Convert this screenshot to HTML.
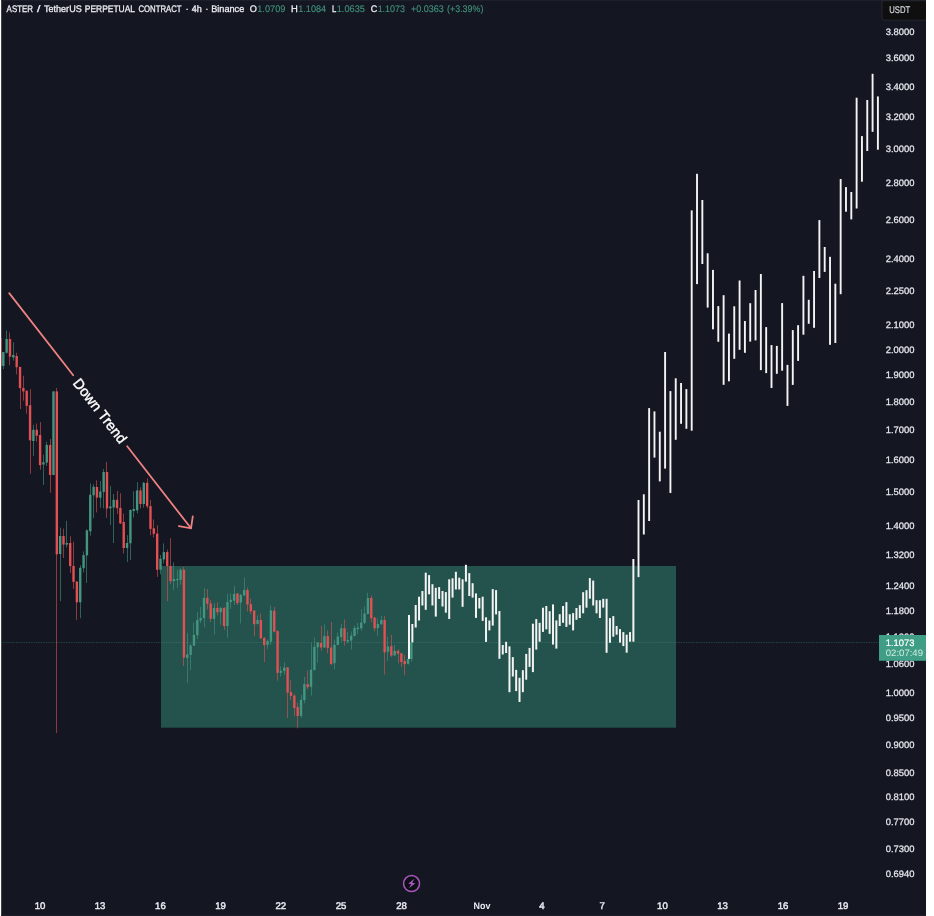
<!DOCTYPE html>
<html lang="en">
<head>
<meta charset="utf-8">
<title>ASTER / TetherUS PERPETUAL CONTRACT</title>
<style>
html,body{margin:0;padding:0;background:#ffffff;}
body{width:934px;height:916px;overflow:hidden;position:relative;font-family:"Liberation Sans",sans-serif;}
#chart{position:absolute;left:0;top:0;width:934px;height:916px;display:block;}
text{font-family:"Liberation Sans",sans-serif;text-rendering:geometricPrecision;}
</style>
</head>
<body>
<svg id="chart" width="934" height="916" viewBox="0 0 934 916">
<rect x="0" y="0" width="934" height="916" fill="#ffffff"/>
<rect x="1.2" y="0" width="924.8" height="916" fill="#141621"/>
<rect x="1.2" y="914.8" width="924.8" height="1.2" fill="#1c1f2a"/>
<rect x="1.2" y="0" width="924.8" height="0.7" fill="#22252f"/>
<!-- range box -->
<rect x="161" y="566" width="515" height="161.7" fill="#24524C"/>
<!-- price line -->
<line x1="1" y1="642.5" x2="879" y2="642.5" stroke="#449680" stroke-width="1" stroke-dasharray="1.3 1.2" opacity=".38"/>
<!-- candles -->
<g shape-rendering="auto">
<rect x="1.2" y="338" width="0.7" height="28" fill="#E15052" opacity=".85"/>
<rect x="3" y="352.1" width="1" height="16.9" fill="#449680" opacity=".6"/>
<rect x="2.1" y="352.1" width="2.4" height="13.8" fill="#449680"/>
<rect x="6" y="330.5" width="1" height="23" fill="#449680" opacity=".6"/>
<rect x="5.44" y="339" width="2.4" height="13.8" fill="#449680"/>
<rect x="9" y="332.4" width="1" height="32.8" fill="#E15052" opacity=".6"/>
<rect x="8.79" y="339" width="2.4" height="17.7" fill="#E15052"/>
<rect x="13" y="342.3" width="1" height="18.3" fill="#449680" opacity=".6"/>
<rect x="12.14" y="355" width="2.4" height="2.5" fill="#449680"/>
<rect x="16" y="352.8" width="1" height="21.6" fill="#E15052" opacity=".6"/>
<rect x="15.48" y="356" width="2.4" height="11.2" fill="#E15052"/>
<rect x="20" y="366.9" width="1" height="42.1" fill="#E15052" opacity=".6"/>
<rect x="18.83" y="366.9" width="2.4" height="21.2" fill="#E15052"/>
<rect x="23" y="375.7" width="1" height="24.9" fill="#E15052" opacity=".6"/>
<rect x="22.17" y="387.9" width="2.4" height="3.5" fill="#E15052"/>
<rect x="26" y="390.7" width="1" height="23" fill="#E15052" opacity=".6"/>
<rect x="25.52" y="390.7" width="2.4" height="15.1" fill="#E15052"/>
<rect x="30" y="389.2" width="1" height="84.5" fill="#E15052" opacity=".6"/>
<rect x="28.86" y="405.2" width="2.4" height="35.1" fill="#E15052"/>
<rect x="33" y="424.8" width="1" height="31.2" fill="#449680" opacity=".6"/>
<rect x="32.2" y="429.8" width="2.4" height="11.2" fill="#449680"/>
<rect x="36" y="423.5" width="1" height="18.1" fill="#E15052" opacity=".6"/>
<rect x="35.55" y="429.8" width="2.4" height="5.9" fill="#E15052"/>
<rect x="40" y="422" width="1" height="47.8" fill="#E15052" opacity=".6"/>
<rect x="38.89" y="435" width="2.4" height="30.2" fill="#E15052"/>
<rect x="43" y="454.7" width="1" height="30.1" fill="#449680" opacity=".6"/>
<rect x="42.24" y="462.2" width="2.4" height="2.3" fill="#449680"/>
<rect x="46" y="441.6" width="1" height="24.3" fill="#449680" opacity=".6"/>
<rect x="45.58" y="444.9" width="2.4" height="17.7" fill="#449680"/>
<rect x="50" y="439" width="1" height="53.7" fill="#E15052" opacity=".6"/>
<rect x="48.93" y="444.9" width="2.4" height="30.1" fill="#E15052"/>
<rect x="53" y="391.4" width="1" height="83.6" fill="#449680" opacity=".6"/>
<rect x="52.27" y="391.4" width="2.4" height="83.6" fill="#449680"/>
<rect x="56" y="387.9" width="1" height="345.2" fill="#E15052" opacity=".6"/>
<rect x="55.62" y="391.4" width="2.4" height="162.9" fill="#E15052"/>
<rect x="60" y="527.6" width="1" height="73.6" fill="#449680" opacity=".6"/>
<rect x="58.96" y="536" width="2.4" height="18.1" fill="#449680"/>
<rect x="63" y="528.6" width="1" height="29.4" fill="#E15052" opacity=".6"/>
<rect x="62.31" y="536" width="2.4" height="8.6" fill="#E15052"/>
<rect x="66" y="520.8" width="1" height="26.7" fill="#449680" opacity=".6"/>
<rect x="65.66" y="543" width="2.4" height="1.6" fill="#449680"/>
<rect x="70" y="536.2" width="1" height="36.8" fill="#E15052" opacity=".6"/>
<rect x="69" y="543" width="2.4" height="23.1" fill="#E15052"/>
<rect x="73" y="541.6" width="1" height="47.2" fill="#E15052" opacity=".6"/>
<rect x="72.34" y="565.9" width="2.4" height="15.9" fill="#E15052"/>
<rect x="76" y="581" width="1" height="39.2" fill="#E15052" opacity=".6"/>
<rect x="75.69" y="581.6" width="2.4" height="20.7" fill="#E15052"/>
<rect x="80" y="565.2" width="1" height="53.1" fill="#449680" opacity=".6"/>
<rect x="79.03" y="567.8" width="2.4" height="34.5" fill="#449680"/>
<rect x="83" y="551.4" width="1" height="21" fill="#449680" opacity=".6"/>
<rect x="82.38" y="555.1" width="2.4" height="13.1" fill="#449680"/>
<rect x="86" y="529.5" width="1" height="53.4" fill="#449680" opacity=".6"/>
<rect x="85.72" y="530.3" width="2.4" height="25.1" fill="#449680"/>
<rect x="90" y="483.5" width="1" height="52.2" fill="#449680" opacity=".6"/>
<rect x="89.07" y="494.7" width="2.4" height="36.6" fill="#449680"/>
<rect x="93" y="484.2" width="1" height="34.1" fill="#449680" opacity=".6"/>
<rect x="92.42" y="486.8" width="2.4" height="8.5" fill="#449680"/>
<rect x="96" y="480.3" width="1" height="32.1" fill="#E15052" opacity=".6"/>
<rect x="95.76" y="487" width="2.4" height="10.6" fill="#E15052"/>
<rect x="100" y="480.9" width="1" height="26.9" fill="#449680" opacity=".6"/>
<rect x="99.11" y="491.5" width="2.4" height="6.2" fill="#449680"/>
<rect x="103" y="469" width="1" height="39.3" fill="#449680" opacity=".6"/>
<rect x="102.45" y="472" width="2.4" height="19.9" fill="#449680"/>
<rect x="106" y="461.8" width="1" height="56" fill="#E15052" opacity=".6"/>
<rect x="105.8" y="472" width="2.4" height="36.5" fill="#E15052"/>
<rect x="110" y="486" width="1" height="39" fill="#449680" opacity=".6"/>
<rect x="109.14" y="506.5" width="2.4" height="1.8" fill="#449680"/>
<rect x="113" y="494" width="1" height="49" fill="#449680" opacity=".6"/>
<rect x="112.48" y="499.8" width="2.4" height="7.7" fill="#449680"/>
<rect x="117" y="491" width="1" height="23" fill="#E15052" opacity=".6"/>
<rect x="115.83" y="499.8" width="2.4" height="8.4" fill="#E15052"/>
<rect x="120" y="493.2" width="1" height="30.8" fill="#E15052" opacity=".6"/>
<rect x="119.17" y="507.9" width="2.4" height="15.5" fill="#E15052"/>
<rect x="123" y="513.5" width="1" height="40" fill="#E15052" opacity=".6"/>
<rect x="122.52" y="522" width="2.4" height="26" fill="#E15052"/>
<rect x="127" y="535.2" width="1" height="26.8" fill="#449680" opacity=".6"/>
<rect x="125.86" y="543" width="2.4" height="5" fill="#449680"/>
<rect x="130" y="509.5" width="1" height="50.5" fill="#449680" opacity=".6"/>
<rect x="129.21" y="510" width="2.4" height="33.3" fill="#449680"/>
<rect x="133" y="491.3" width="1" height="26.2" fill="#449680" opacity=".6"/>
<rect x="132.56" y="509" width="2.4" height="1.9" fill="#449680"/>
<rect x="137" y="482.1" width="1" height="31.4" fill="#449680" opacity=".6"/>
<rect x="135.9" y="490.4" width="2.4" height="19.9" fill="#449680"/>
<rect x="140" y="487.3" width="1" height="21" fill="#E15052" opacity=".6"/>
<rect x="139.25" y="490.4" width="2.4" height="13.6" fill="#E15052"/>
<rect x="143" y="482" width="1" height="25.6" fill="#449680" opacity=".6"/>
<rect x="142.59" y="482.8" width="2.4" height="21.2" fill="#449680"/>
<rect x="147" y="478.2" width="1" height="30.1" fill="#E15052" opacity=".6"/>
<rect x="145.94" y="482.8" width="2.4" height="23.5" fill="#E15052"/>
<rect x="150" y="499.8" width="1" height="35.4" fill="#E15052" opacity=".6"/>
<rect x="149.28" y="506.1" width="2.4" height="22.8" fill="#E15052"/>
<rect x="153" y="519.4" width="1" height="18.1" fill="#E15052" opacity=".6"/>
<rect x="152.63" y="528.3" width="2.4" height="5.5" fill="#E15052"/>
<rect x="157" y="525.3" width="1" height="51.6" fill="#E15052" opacity=".6"/>
<rect x="155.97" y="533.6" width="2.4" height="36.1" fill="#E15052"/>
<rect x="160" y="555" width="1" height="19.2" fill="#449680" opacity=".6"/>
<rect x="159.32" y="558.8" width="2.4" height="10.9" fill="#449680"/>
<rect x="163" y="543.3" width="1" height="20.2" fill="#449680" opacity=".6"/>
<rect x="162.66" y="552.1" width="2.4" height="7.3" fill="#449680"/>
<rect x="167" y="549.6" width="1" height="51.4" fill="#E15052" opacity=".6"/>
<rect x="166.01" y="552.1" width="2.4" height="13.9" fill="#E15052"/>
<rect x="170" y="538" width="1" height="46" fill="#E15052" opacity=".6"/>
<rect x="169.35" y="566" width="2.4" height="15.2" fill="#E15052"/>
<rect x="173" y="562.4" width="1" height="27.6" fill="#449680" opacity=".6"/>
<rect x="172.7" y="579" width="2.4" height="2.2" fill="#449680"/>
<rect x="177" y="569.7" width="1" height="18.3" fill="#449680" opacity=".6"/>
<rect x="176.04" y="579" width="2.4" height="1.2" fill="#449680"/>
<rect x="180" y="568.3" width="1" height="16.4" fill="#449680" opacity=".6"/>
<rect x="179.39" y="569.7" width="2.4" height="10.2" fill="#449680"/>
<rect x="183" y="567" width="1" height="99" fill="#E15052" opacity=".6"/>
<rect x="182.73" y="569.7" width="2.4" height="87.8" fill="#E15052"/>
<rect x="187" y="633.2" width="1" height="49.6" fill="#449680" opacity=".6"/>
<rect x="186.08" y="654.4" width="2.4" height="3.7" fill="#449680"/>
<rect x="190" y="644" width="1" height="26" fill="#449680" opacity=".6"/>
<rect x="189.42" y="645.4" width="2.4" height="9.5" fill="#449680"/>
<rect x="193" y="622.7" width="1" height="23.3" fill="#449680" opacity=".6"/>
<rect x="192.77" y="634.9" width="2.4" height="10.7" fill="#449680"/>
<rect x="197" y="612.2" width="1" height="26.8" fill="#449680" opacity=".6"/>
<rect x="196.11" y="620.1" width="2.4" height="15.1" fill="#449680"/>
<rect x="200" y="607" width="1" height="16" fill="#449680" opacity=".6"/>
<rect x="199.46" y="617.9" width="2.4" height="2.6" fill="#449680"/>
<rect x="204" y="588" width="1" height="39.3" fill="#449680" opacity=".6"/>
<rect x="202.8" y="597.8" width="2.4" height="20.3" fill="#449680"/>
<rect x="207" y="589" width="1" height="20.6" fill="#E15052" opacity=".6"/>
<rect x="206.15" y="597.8" width="2.4" height="5.9" fill="#E15052"/>
<rect x="210" y="599.8" width="1" height="22.2" fill="#E15052" opacity=".6"/>
<rect x="209.49" y="603.5" width="2.4" height="15.3" fill="#E15052"/>
<rect x="214" y="603" width="1" height="31.5" fill="#449680" opacity=".6"/>
<rect x="212.84" y="607.9" width="2.4" height="10.9" fill="#449680"/>
<rect x="217" y="602.4" width="1" height="13.1" fill="#E15052" opacity=".6"/>
<rect x="216.18" y="607.9" width="2.4" height="4.3" fill="#E15052"/>
<rect x="220" y="607" width="1" height="17.7" fill="#449680" opacity=".6"/>
<rect x="219.53" y="607.9" width="2.4" height="4.3" fill="#449680"/>
<rect x="224" y="607" width="1" height="22.9" fill="#E15052" opacity=".6"/>
<rect x="222.87" y="607.9" width="2.4" height="18.1" fill="#E15052"/>
<rect x="227" y="593.9" width="1" height="43.9" fill="#449680" opacity=".6"/>
<rect x="226.22" y="602.1" width="2.4" height="23.9" fill="#449680"/>
<rect x="230" y="593.2" width="1" height="15.8" fill="#449680" opacity=".6"/>
<rect x="229.56" y="599.8" width="2.4" height="2.3" fill="#449680"/>
<rect x="234" y="586" width="1" height="19" fill="#449680" opacity=".6"/>
<rect x="232.91" y="593.9" width="2.4" height="6.9" fill="#449680"/>
<rect x="237" y="593" width="1" height="12" fill="#E15052" opacity=".6"/>
<rect x="236.25" y="593.5" width="2.4" height="9.6" fill="#E15052"/>
<rect x="240" y="594" width="1" height="29.5" fill="#449680" opacity=".6"/>
<rect x="239.6" y="594.9" width="2.4" height="7.6" fill="#449680"/>
<rect x="244" y="577.5" width="1" height="18.5" fill="#449680" opacity=".6"/>
<rect x="242.94" y="589.9" width="2.4" height="5.4" fill="#449680"/>
<rect x="247" y="587.5" width="1" height="24" fill="#E15052" opacity=".6"/>
<rect x="246.29" y="589.9" width="2.4" height="14.6" fill="#E15052"/>
<rect x="250" y="598.4" width="1" height="15.8" fill="#E15052" opacity=".6"/>
<rect x="249.63" y="604.1" width="2.4" height="7.2" fill="#E15052"/>
<rect x="254" y="610" width="1" height="26" fill="#E15052" opacity=".6"/>
<rect x="252.98" y="610.6" width="2.4" height="13.6" fill="#E15052"/>
<rect x="257" y="615.4" width="1" height="9.1" fill="#449680" opacity=".6"/>
<rect x="256.32" y="620" width="2.4" height="3.9" fill="#449680"/>
<rect x="260" y="613.4" width="1" height="25.6" fill="#E15052" opacity=".6"/>
<rect x="259.67" y="620" width="2.4" height="18.3" fill="#E15052"/>
<rect x="264" y="637" width="1" height="24.9" fill="#E15052" opacity=".6"/>
<rect x="263.01" y="637.9" width="2.4" height="7.3" fill="#E15052"/>
<rect x="267" y="639.6" width="1" height="9.8" fill="#449680" opacity=".6"/>
<rect x="266.36" y="640.9" width="2.4" height="4" fill="#449680"/>
<rect x="270" y="605.5" width="1" height="39.4" fill="#449680" opacity=".6"/>
<rect x="269.7" y="610.4" width="2.4" height="31.2" fill="#449680"/>
<rect x="274" y="606.9" width="1" height="25.6" fill="#E15052" opacity=".6"/>
<rect x="273.05" y="610.8" width="2.4" height="20.9" fill="#E15052"/>
<rect x="277" y="630" width="1" height="50.7" fill="#E15052" opacity=".6"/>
<rect x="276.39" y="631.1" width="2.4" height="41.8" fill="#E15052"/>
<rect x="280" y="666.2" width="1" height="10.3" fill="#449680" opacity=".6"/>
<rect x="279.74" y="670.8" width="2.4" height="2" fill="#449680"/>
<rect x="284" y="662.3" width="1" height="12.3" fill="#449680" opacity=".6"/>
<rect x="283.08" y="667.5" width="2.4" height="3.4" fill="#449680"/>
<rect x="287" y="667" width="1" height="51.1" fill="#E15052" opacity=".6"/>
<rect x="286.43" y="667.4" width="2.4" height="25.1" fill="#E15052"/>
<rect x="290" y="680.3" width="1" height="19.7" fill="#E15052" opacity=".6"/>
<rect x="289.77" y="692.1" width="2.4" height="3.8" fill="#E15052"/>
<rect x="294" y="694" width="1" height="22.4" fill="#E15052" opacity=".6"/>
<rect x="293.12" y="695.7" width="2.4" height="12.2" fill="#E15052"/>
<rect x="297" y="702.8" width="1" height="25.6" fill="#E15052" opacity=".6"/>
<rect x="296.46" y="707.1" width="2.4" height="8.8" fill="#E15052"/>
<rect x="301" y="694.6" width="1" height="23.1" fill="#449680" opacity=".6"/>
<rect x="299.81" y="699.8" width="2.4" height="16.1" fill="#449680"/>
<rect x="304" y="676.9" width="1" height="26.4" fill="#449680" opacity=".6"/>
<rect x="303.15" y="684.2" width="2.4" height="15.8" fill="#449680"/>
<rect x="307" y="670.5" width="1" height="18.7" fill="#E15052" opacity=".6"/>
<rect x="306.5" y="684.2" width="2.4" height="3" fill="#E15052"/>
<rect x="311" y="642.5" width="1" height="53" fill="#449680" opacity=".6"/>
<rect x="309.84" y="669.7" width="2.4" height="17.2" fill="#449680"/>
<rect x="314" y="637.6" width="1" height="32.9" fill="#449680" opacity=".6"/>
<rect x="313.19" y="646.9" width="2.4" height="23.1" fill="#449680"/>
<rect x="317" y="642" width="1" height="20.7" fill="#449680" opacity=".6"/>
<rect x="316.53" y="642.6" width="2.4" height="4.7" fill="#449680"/>
<rect x="321" y="625.9" width="1" height="24.8" fill="#E15052" opacity=".6"/>
<rect x="319.88" y="642.9" width="2.4" height="4.6" fill="#E15052"/>
<rect x="324" y="624.5" width="1" height="23.5" fill="#449680" opacity=".6"/>
<rect x="323.22" y="636.1" width="2.4" height="11.4" fill="#449680"/>
<rect x="327" y="630.4" width="1" height="23" fill="#E15052" opacity=".6"/>
<rect x="326.57" y="636.1" width="2.4" height="11.8" fill="#E15052"/>
<rect x="331" y="621.9" width="1" height="43.1" fill="#E15052" opacity=".6"/>
<rect x="329.91" y="647.5" width="2.4" height="16.6" fill="#E15052"/>
<rect x="334" y="639.6" width="1" height="29.8" fill="#449680" opacity=".6"/>
<rect x="333.26" y="644.9" width="2.4" height="18.3" fill="#449680"/>
<rect x="337" y="632.4" width="1" height="13.1" fill="#449680" opacity=".6"/>
<rect x="336.6" y="636.6" width="2.4" height="8.3" fill="#449680"/>
<rect x="341" y="623.9" width="1" height="17.7" fill="#449680" opacity=".6"/>
<rect x="339.95" y="628.2" width="2.4" height="8.9" fill="#449680"/>
<rect x="344" y="619.4" width="1" height="26.2" fill="#E15052" opacity=".6"/>
<rect x="343.29" y="628.2" width="2.4" height="12.8" fill="#E15052"/>
<rect x="347" y="632" width="1" height="11.6" fill="#449680" opacity=".6"/>
<rect x="346.64" y="640" width="2.4" height="1.6" fill="#449680"/>
<rect x="351" y="631.5" width="1" height="18" fill="#449680" opacity=".6"/>
<rect x="349.98" y="635.7" width="2.4" height="4.9" fill="#449680"/>
<rect x="354" y="625.7" width="1" height="10.8" fill="#449680" opacity=".6"/>
<rect x="353.33" y="628" width="2.4" height="8" fill="#449680"/>
<rect x="357" y="623" width="1" height="11" fill="#449680" opacity=".6"/>
<rect x="356.67" y="627.6" width="2.4" height="1.4" fill="#449680"/>
<rect x="361" y="609.1" width="1" height="21.6" fill="#449680" opacity=".6"/>
<rect x="360.02" y="622.6" width="2.4" height="5.8" fill="#449680"/>
<rect x="364" y="606.5" width="1" height="17.5" fill="#449680" opacity=".6"/>
<rect x="363.36" y="613.5" width="2.4" height="9.4" fill="#449680"/>
<rect x="367" y="592.8" width="1" height="21.7" fill="#449680" opacity=".6"/>
<rect x="366.71" y="598" width="2.4" height="16" fill="#449680"/>
<rect x="371" y="595.4" width="1" height="26.8" fill="#E15052" opacity=".6"/>
<rect x="370.05" y="598" width="2.4" height="20.3" fill="#E15052"/>
<rect x="374" y="617" width="1" height="14.4" fill="#E15052" opacity=".6"/>
<rect x="373.4" y="617.6" width="2.4" height="10.8" fill="#E15052"/>
<rect x="377" y="618.3" width="1" height="17.7" fill="#449680" opacity=".6"/>
<rect x="376.74" y="623.9" width="2.4" height="4.2" fill="#449680"/>
<rect x="381" y="615.7" width="1" height="9.3" fill="#449680" opacity=".6"/>
<rect x="380.09" y="620" width="2.4" height="4.2" fill="#449680"/>
<rect x="384" y="615.7" width="1" height="58.9" fill="#E15052" opacity=".6"/>
<rect x="383.43" y="620" width="2.4" height="32.4" fill="#E15052"/>
<rect x="387" y="636.6" width="1" height="24.3" fill="#449680" opacity=".6"/>
<rect x="386.78" y="646.5" width="2.4" height="5.2" fill="#449680"/>
<rect x="391" y="634.7" width="1" height="22.3" fill="#E15052" opacity=".6"/>
<rect x="390.12" y="646.2" width="2.4" height="9.4" fill="#E15052"/>
<rect x="394" y="645.2" width="1" height="10.8" fill="#449680" opacity=".6"/>
<rect x="393.47" y="650.7" width="2.4" height="4.7" fill="#449680"/>
<rect x="398" y="649.1" width="1" height="14.4" fill="#E15052" opacity=".6"/>
<rect x="396.81" y="651" width="2.4" height="2.7" fill="#E15052"/>
<rect x="401" y="653" width="1" height="13.8" fill="#E15052" opacity=".6"/>
<rect x="400.16" y="653.3" width="2.4" height="8.6" fill="#E15052"/>
<rect x="404" y="655" width="1" height="20.3" fill="#E15052" opacity=".6"/>
<rect x="403.5" y="660.9" width="2.4" height="3.3" fill="#E15052"/>
<rect x="408" y="658" width="1" height="6.5" fill="#449680" opacity=".6"/>
<rect x="406.85" y="659" width="2.4" height="4.8" fill="#449680"/>
<rect x="411" y="642" width="1" height="19.7" fill="#449680" opacity=".6"/>
<rect x="410.19" y="642.4" width="2.4" height="16.6" fill="#449680"/>
</g>
<!-- projection bars -->
<g fill="#F4F4F4">
<rect x="408" y="615" width="2" height="43.9"/>
<rect x="411.35" y="624" width="2" height="18.4"/>
<rect x="414.7" y="605" width="2" height="22.5"/>
<rect x="418.05" y="596.7" width="2" height="23.8"/>
<rect x="421.4" y="591" width="2" height="14.5"/>
<rect x="424.75" y="572.7" width="2" height="37.1"/>
<rect x="428.09" y="575.1" width="2" height="19.2"/>
<rect x="431.44" y="584.2" width="2" height="21.3"/>
<rect x="434.79" y="587.8" width="2" height="28.8"/>
<rect x="438.14" y="587.1" width="2" height="11.8"/>
<rect x="441.49" y="591" width="2" height="15.5"/>
<rect x="444.84" y="592.1" width="2" height="20.6"/>
<rect x="448.19" y="579.3" width="2" height="39.7"/>
<rect x="451.54" y="578.3" width="2" height="19.3"/>
<rect x="454.89" y="571.8" width="2" height="17.7"/>
<rect x="458.24" y="577.7" width="2" height="11.8"/>
<rect x="461.58" y="579.3" width="2" height="27.5"/>
<rect x="464.93" y="564.8" width="2" height="16.8"/>
<rect x="468.28" y="573.1" width="2" height="22.9"/>
<rect x="471.63" y="583.2" width="2" height="14.4"/>
<rect x="474.98" y="593.4" width="2" height="24.5"/>
<rect x="478.33" y="598" width="2" height="10.5"/>
<rect x="481.68" y="596.7" width="2" height="24.2"/>
<rect x="485.03" y="617.3" width="2" height="24.6"/>
<rect x="488.38" y="620.5" width="2" height="9.9"/>
<rect x="491.73" y="589.1" width="2" height="36.5"/>
<rect x="495.07" y="590.1" width="2" height="24.3"/>
<rect x="498.42" y="611" width="2" height="47.8"/>
<rect x="501.77" y="645" width="2" height="9.5"/>
<rect x="505.12" y="641.8" width="2" height="11.2"/>
<rect x="508.47" y="646.4" width="2" height="45.8"/>
<rect x="511.82" y="657.1" width="2" height="19.4"/>
<rect x="515.17" y="669.9" width="2" height="21.2"/>
<rect x="518.52" y="677.8" width="2" height="24.2"/>
<rect x="521.87" y="670.2" width="2" height="22"/>
<rect x="525.22" y="653.9" width="2" height="25.8"/>
<rect x="528.56" y="647.9" width="2" height="19"/>
<rect x="531.91" y="623.7" width="2" height="48.4"/>
<rect x="535.26" y="619.1" width="2" height="30.5"/>
<rect x="538.61" y="622.8" width="2" height="18.9"/>
<rect x="541.96" y="607.7" width="2" height="24.2"/>
<rect x="545.31" y="606" width="2" height="23.3"/>
<rect x="548.66" y="611.2" width="2" height="22.7"/>
<rect x="552.01" y="604.4" width="2" height="40.2"/>
<rect x="555.36" y="620.4" width="2" height="28.2"/>
<rect x="558.71" y="614.2" width="2" height="11.8"/>
<rect x="562.05" y="606" width="2" height="16.8"/>
<rect x="565.4" y="602.1" width="2" height="24.8"/>
<rect x="568.75" y="614.2" width="2" height="10.5"/>
<rect x="572.1" y="613.1" width="2" height="17.3"/>
<rect x="575.45" y="608" width="2" height="11.8"/>
<rect x="578.8" y="605.2" width="2" height="12.8"/>
<rect x="582.15" y="592.2" width="2" height="21.1"/>
<rect x="585.5" y="590.2" width="2" height="17.5"/>
<rect x="588.85" y="578.1" width="2" height="20.6"/>
<rect x="592.2" y="580.6" width="2" height="24.9"/>
<rect x="595.54" y="600.2" width="2" height="13.1"/>
<rect x="598.89" y="600.2" width="2" height="17.8"/>
<rect x="602.24" y="598.8" width="2" height="8.8"/>
<rect x="605.59" y="598.8" width="2" height="54"/>
<rect x="608.94" y="618.1" width="2" height="24.7"/>
<rect x="612.29" y="616.1" width="2" height="20.6"/>
<rect x="615.64" y="626" width="2" height="8.7"/>
<rect x="618.99" y="629.1" width="2" height="13.5"/>
<rect x="622.34" y="632.1" width="2" height="14"/>
<rect x="625.68" y="634.7" width="2" height="18"/>
<rect x="629.03" y="632.1" width="2" height="9.6"/>
<rect x="632.38" y="559" width="2" height="82.7"/>
<rect x="637.55" y="500" width="1.9" height="77.1"/>
<rect x="642.87" y="494.3" width="1.9" height="40.2"/>
<rect x="648.19" y="408.1" width="1.9" height="112.9"/>
<rect x="653.51" y="411.4" width="1.9" height="46.2"/>
<rect x="658.83" y="431.7" width="1.9" height="49.7"/>
<rect x="664.15" y="352" width="1.9" height="116.6"/>
<rect x="669.47" y="391.1" width="1.9" height="101.9"/>
<rect x="674.79" y="378.3" width="1.9" height="61.5"/>
<rect x="680.11" y="383" width="1.9" height="40.8"/>
<rect x="685.43" y="389.1" width="1.9" height="39.7"/>
<rect x="690.75" y="210.4" width="1.9" height="220.3"/>
<rect x="696.07" y="173.8" width="1.9" height="110.3"/>
<rect x="701.39" y="200" width="1.9" height="64"/>
<rect x="706.71" y="253.3" width="1.9" height="54.3"/>
<rect x="712.03" y="269.9" width="1.9" height="59.4"/>
<rect x="717.35" y="306.1" width="1.9" height="35.7"/>
<rect x="722.67" y="295.2" width="1.9" height="89.6"/>
<rect x="727.99" y="333.6" width="1.9" height="47.7"/>
<rect x="733.31" y="306.3" width="1.9" height="52.5"/>
<rect x="738.63" y="280.5" width="1.9" height="69.3"/>
<rect x="743.95" y="321" width="1.9" height="31.8"/>
<rect x="749.27" y="303.2" width="1.9" height="38.4"/>
<rect x="754.59" y="290" width="1.9" height="50.4"/>
<rect x="759.91" y="274" width="1.9" height="96.1"/>
<rect x="765.23" y="327.1" width="1.9" height="46"/>
<rect x="770.55" y="345.1" width="1.9" height="42.9"/>
<rect x="775.87" y="345.9" width="1.9" height="27.9"/>
<rect x="781.19" y="303.1" width="1.9" height="67.6"/>
<rect x="786.51" y="364.9" width="1.9" height="41"/>
<rect x="791.83" y="330.1" width="1.9" height="54.8"/>
<rect x="797.15" y="325.2" width="1.9" height="35.7"/>
<rect x="802.47" y="275.8" width="1.9" height="58.9"/>
<rect x="807.79" y="299.8" width="1.9" height="24"/>
<rect x="813.11" y="271" width="1.9" height="56.8"/>
<rect x="818.43" y="220.1" width="1.9" height="57.9"/>
<rect x="823.75" y="247" width="1.9" height="24.9"/>
<rect x="829.07" y="256.8" width="1.9" height="88"/>
<rect x="834.39" y="283.7" width="1.9" height="59.3"/>
<rect x="839.71" y="179" width="1.9" height="115.2"/>
<rect x="845.03" y="187.1" width="1.9" height="24.6"/>
<rect x="850.35" y="192" width="1.9" height="27.4"/>
<rect x="855.67" y="97.7" width="1.9" height="110.8"/>
<rect x="860.99" y="136.1" width="1.9" height="45.6"/>
<rect x="866.31" y="100" width="1.9" height="51"/>
<rect x="871.63" y="73.8" width="1.9" height="58"/>
<rect x="876.95" y="96.4" width="1.9" height="53.3"/>
</g>
<!-- down trend line -->
<g stroke="#EE8282" stroke-width="1.8" fill="none" stroke-linecap="round">
<line x1="9.2" y1="293.1" x2="73.2" y2="375.2"/>
<line x1="127.2" y1="446.2" x2="190.6" y2="527.8"/>
<polyline points="178.9,526.2 191,528.3 192.8,516.4" stroke-linejoin="miter"/>
</g>
<text transform="translate(100.2,410.7) rotate(52.3)" x="0" y="5.2" text-anchor="middle" font-size="14.4" fill="#ffffff" stroke="#ffffff" stroke-width=".4">Down Trend</text>
<!-- legend -->
<g font-size="9.5" fill="#ECEEF3" stroke="#ECEEF3" stroke-width=".3">
<text x="6.61" y="12.2" textLength="26.44" lengthAdjust="spacingAndGlyphs">ASTER</text>
<text x="36.90" y="12.2" textLength="3.4" lengthAdjust="spacingAndGlyphs">/</text>
<text x="43.95" y="12.2" textLength="37.80" lengthAdjust="spacingAndGlyphs">TetherUS</text>
<text x="84.85" y="12.2" textLength="50.10" lengthAdjust="spacingAndGlyphs">PERPETUAL</text>
<text x="138.45" y="12.2" textLength="43.10" lengthAdjust="spacingAndGlyphs">CONTRACT</text>
<text x="185.40" y="12.2">·</text>
<text x="191.75" y="12.2" textLength="10.00" lengthAdjust="spacingAndGlyphs">4h</text>
<text x="205.20" y="12.2">·</text>
<text x="211.25" y="12.2" textLength="33.00" lengthAdjust="spacingAndGlyphs">Binance</text>
<text x="249.85" y="12.2" textLength="7.10" lengthAdjust="spacingAndGlyphs">O</text>
<text x="291.05" y="12.2" textLength="6.80" lengthAdjust="spacingAndGlyphs">H</text>
<text x="331.95" y="12.2" textLength="4.30" lengthAdjust="spacingAndGlyphs">L</text>
<text x="370.85" y="12.2" textLength="6.50" lengthAdjust="spacingAndGlyphs">C</text>
</g>
<g font-size="9.5" fill="#41937D" stroke="#41937D" stroke-width=".12">
<text x="257.25" y="12.2" textLength="28.10" lengthAdjust="spacingAndGlyphs">1.0709</text>
<text x="298.25" y="12.2" textLength="27.80" lengthAdjust="spacingAndGlyphs">1.1084</text>
<text x="336.75" y="12.2" textLength="28.10" lengthAdjust="spacingAndGlyphs">1.0635</text>
<text x="377.65" y="12.2" textLength="27.30" lengthAdjust="spacingAndGlyphs">1.1073</text>
<text x="410.95" y="12.2" textLength="32.80" lengthAdjust="spacingAndGlyphs">+0.0363</text>
<text x="447.05" y="12.2" textLength="36.30" lengthAdjust="spacingAndGlyphs">(+3.39%)</text>
</g>
<!-- currency box -->
<path d="M882 0.8 H926 V20.2 H885 Q882 20.2 882 17.2 Z" fill="#0F0F0F"/><path d="M926 0.8 H882 V17.2 Q882 20.2 885 20.2 H926" fill="none" stroke="#2A2D38" stroke-width=".8"/>
<text x="889.2" y="13.1" font-size="9.7" fill="#D6D8DF" stroke="#D6D8DF" stroke-width=".2" textLength="21" lengthAdjust="spacingAndGlyphs">USDT</text>
<!-- price axis -->
<g font-size="9.4" fill="#E8EAF0" stroke="#E8EAF0" stroke-width=".25">
<text x="885.8" y="34.67">3.8000</text>
<text x="885.8" y="61.45">3.6000</text>
<text x="885.8" y="89.76">3.4000</text>
<text x="885.8" y="119.79">3.2000</text>
<text x="885.8" y="151.76">3.0000</text>
<text x="885.8" y="185.93">2.8000</text>
<text x="885.8" y="222.64">2.6000</text>
<text x="885.8" y="262.28">2.4000</text>
<text x="885.8" y="294.25">2.2500</text>
<text x="885.8" y="328.42">2.1000</text>
<text x="885.8" y="352.58">2.0000</text>
<text x="885.8" y="377.99">1.9000</text>
<text x="885.8" y="404.77">1.8000</text>
<text x="885.8" y="433.08">1.7000</text>
<text x="885.8" y="463.11">1.6000</text>
<text x="885.8" y="495.07">1.5000</text>
<text x="885.8" y="529.25">1.4000</text>
<text x="885.8" y="558.39">1.3200</text>
<text x="885.8" y="589.36">1.2400</text>
<text x="885.8" y="613.92">1.1800</text>
<text x="885.8" y="639.77">1.1200</text>
<text x="885.8" y="667.04">1.0600</text>
<text x="885.8" y="695.9">1.0000</text>
<text x="885.8" y="721.31">0.9500</text>
<text x="885.8" y="748.09">0.9000</text>
<text x="885.8" y="776.4">0.8500</text>
<text x="885.8" y="800.27">0.8100</text>
<text x="885.8" y="825.35">0.7700</text>
<text x="885.8" y="851.78">0.7300</text>
<text x="885.8" y="876.82">0.6940</text>
</g>
<!-- last price label -->
<rect x="879" y="635" width="47" height="25.8" fill="#3F9E85"/>
<text x="885.8" y="645.5" font-size="9.4" fill="#ffffff" stroke="#ffffff" stroke-width=".2">1.1073</text>
<text x="885.8" y="656.3" font-size="9.4" fill="#D3ECE5" textLength="37.2" lengthAdjust="spacingAndGlyphs">02:07:49</text>
<!-- time axis -->
<g font-size="9.6" fill="#E8EAF0" stroke="#E8EAF0" stroke-width=".45" text-anchor="middle">
<text x="40" y="909.2">10</text>
<text x="100" y="909.2">13</text>
<text x="160.4" y="909.2">16</text>
<text x="220.6" y="909.2">19</text>
<text x="280.8" y="909.2">22</text>
<text x="341" y="909.2">25</text>
<text x="401.6" y="909.2">28</text>
<text x="482" y="909.2" font-weight="bold" textLength="16.9" lengthAdjust="spacingAndGlyphs" stroke-width="0">Nov</text>
<text x="542" y="909.2">4</text>
<text x="602.2" y="909.2">7</text>
<text x="662.4" y="909.2">10</text>
<text x="722.6" y="909.2">13</text>
<text x="783" y="909.2">16</text>
<text x="843" y="909.2">19</text>
</g>
<!-- flash icon -->
<circle cx="411.55" cy="883.55" r="8" fill="#0D0F16" stroke="#A855BE" stroke-width="1.5"/>
<path d="M414.39 878.84 L408.15 883.71 L411.39 883.93 L408.90 888.25 L415.34 883.17 L412.12 882.99 Z" fill="#AE5AC4"/>
</svg>
</body>
</html>
